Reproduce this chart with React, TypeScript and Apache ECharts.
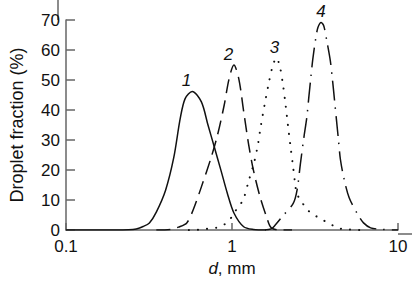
import React, { useEffect, useRef } from "react";
import * as echarts from "echarts";

// Curve 1 (solid)
const curve1X = [0.1, 0.2, 0.238, 0.265, 0.2915, 0.318, 0.35, 0.398, 0.446, 0.488, 0.522, 0.576, 0.654, 0.716, 0.784, 0.858, 0.938, 1.027, 1.176, 1.346, 1.6];
const curve1Y = [0, 0, 0.1, 0.4, 1.2, 2.4, 6.0, 13.3, 24.2, 37.3, 43.8, 46.2, 42.7, 35.1, 27.5, 19.9, 12.2, 5.7, 1.1, 0.2, 0];

// Curve 2 (dashed)
const curve2X = [0.35, 0.426, 0.476, 0.534, 0.584, 0.654, 0.749, 0.819, 0.897, 0.96, 1.027, 1.099, 1.176, 1.259, 1.347, 1.475, 1.613, 1.726, 2.02, 2.3];
const curve2Y = [0, 0.2, 1.0, 2.4, 6.8, 14.4, 24.2, 31.8, 41.6, 50.4, 55.0, 50.4, 39.5, 28.6, 19.9, 11.1, 4.5, 0.75, 0, 0];

// Curve 3 (dotted)
const curve3X = [0.55, 0.612, 0.7, 0.802, 0.918, 1.004, 1.074, 1.166, 1.259, 1.36, 1.436, 1.495, 1.57, 1.657, 1.759, 1.852, 1.942, 2.031, 2.106, 2.173, 2.245, 2.325, 2.402, 2.455, 2.627, 2.838, 3.176, 3.573, 4.035, 4.559, 5.17, 5.98];
const curve3Y = [0, 0.1, 0.4, 0.75, 2.2, 4.6, 7.3, 10.0, 16.3, 22.6, 28.9, 35.1, 41.6, 48.4, 54.7, 57.4, 54.5, 48.2, 41.4, 34.9, 28.4, 21.8, 15.5, 12.2, 9.5, 6.8, 4.8, 3.2, 1.6, 0.4, 0.2, 0];

// Curve 4 (dash-dot)
const curve4X = [1.58, 1.719, 1.797, 2.014, 2.338, 2.469, 2.581, 2.713, 2.826, 2.904, 2.984, 3.066, 3.192, 3.293, 3.445, 3.573, 3.736, 3.912, 4.035, 4.145, 4.259, 4.376, 4.497, 4.729, 5.08, 5.74, 6.2, 6.84, 7.84, 9.47, 10];
const curve4Y = [0, 0.4, 1.3, 4.6, 8.9, 13.5, 22.0, 31.0, 37.8, 44.4, 50.7, 56.9, 63.7, 67.5, 69.2, 68.0, 62.7, 56.4, 49.8, 43.3, 36.7, 30.2, 23.6, 17.1, 10.8, 5.1, 2.4, 0.75, 0.3, 0, 0];

const curveLabels = ["1", "2", "3", "4"];

const FONT = '"Liberation Sans", Arial, Helvetica, sans-serif';
const INK = "#111";
const AXIS = "#666";

function zip(xs: number[], ys: number[]) {
  return xs.map((x, i) => [x, ys[i]]);
}

export default function App() {
  const ref = useRef<HTMLDivElement>(null);
  useEffect(() => {
    const chart = echarts.init(ref.current!, null, { renderer: "svg" });
    const labelPos = [
      [186.5, 80],
      [228.5, 54],
      [274.5, 47.5],
      [321, 11.5],
    ];
    chart.setOption({
      animation: false,
      grid: { left: 58, right: 14, top: 20, bottom: 48, containLabel: false },
      xAxis: {
        type: "log",
        logBase: 10,
        min: 0.1,
        max: 10,
        name: "{i|d}, mm",
        nameLocation: "middle",
        nameGap: 21,
        nameTextStyle: {
          color: INK,
          fontSize: 17,
          fontFamily: FONT,
          rich: { i: { fontStyle: "italic", fontSize: 17, fontFamily: FONT, color: INK } },
        },
        axisLine: { show: true, lineStyle: { color: AXIS, width: 1.5 } },
        axisTick: { show: true, inside: true, length: 7, lineStyle: { color: AXIS, width: 1.5 } },
        minorTick: { show: false },
        splitLine: { show: false },
        axisLabel: { color: INK, fontSize: 17, fontFamily: FONT, margin: 8 },
      },
      yAxis: {
        type: "value",
        min: 0,
        max: 70,
        interval: 10,
        name: "Droplet fraction (%)",
        nameLocation: "middle",
        nameGap: 40,
        nameTextStyle: { color: INK, fontSize: 18, fontFamily: FONT },
        axisLine: { show: true, lineStyle: { color: AXIS, width: 1.5 } },
        axisTick: { show: true, inside: true, length: 9, lineStyle: { color: AXIS, width: 1.5 } },
        splitLine: { show: false },
        axisLabel: { color: INK, fontSize: 17, fontFamily: FONT, margin: 6 },
      },
      graphic: [
        { type: "line", shape: { x1: 58, y1: 0, x2: 58, y2: 20 }, style: { stroke: AXIS, lineWidth: 1.5 } },
        { type: "line", shape: { x1: 398, y1: 234, x2: 412, y2: 234 }, style: { stroke: AXIS, lineWidth: 1.5 } },
        ...curveLabels.map((t, i) => ({
          type: "text",
          x: labelPos[i][0],
          y: labelPos[i][1],
          style: {
            text: t,
            font: `italic 17px ${FONT}`,
            fill: INK,
            textAlign: "center",
            textVerticalAlign: "middle",
          },
        })),
      ],
      series: [
        {
          type: "line",
          data: zip(curve1X, curve1Y),
          symbol: "none",
          smooth: 0.3,
          lineStyle: { color: INK, width: 1.5, type: "solid" },
        },
        {
          type: "line",
          data: zip(curve2X, curve2Y),
          symbol: "none",
          smooth: 0.3,
          lineStyle: { color: INK, width: 1.5, type: [14, 7] },
        },
        {
          type: "line",
          data: zip(curve3X, curve3Y),
          symbol: "none",
          smooth: 0.3,
          lineStyle: { color: INK, width: 2, type: [0.1, 9], cap: "round" },
        },
        {
          type: "line",
          data: zip(curve4X, curve4Y),
          symbol: "none",
          smooth: 0.3,
          lineStyle: { color: INK, width: 1.5, type: [20, 7, 1.5, 7] },
        },
      ],
    });
    return () => chart.dispose();
  }, []);
  return (
    <div
      ref={ref}
      style={{ position: "absolute", left: 0, top: 0, width: 412, height: 282 }}
    />
  );
}
